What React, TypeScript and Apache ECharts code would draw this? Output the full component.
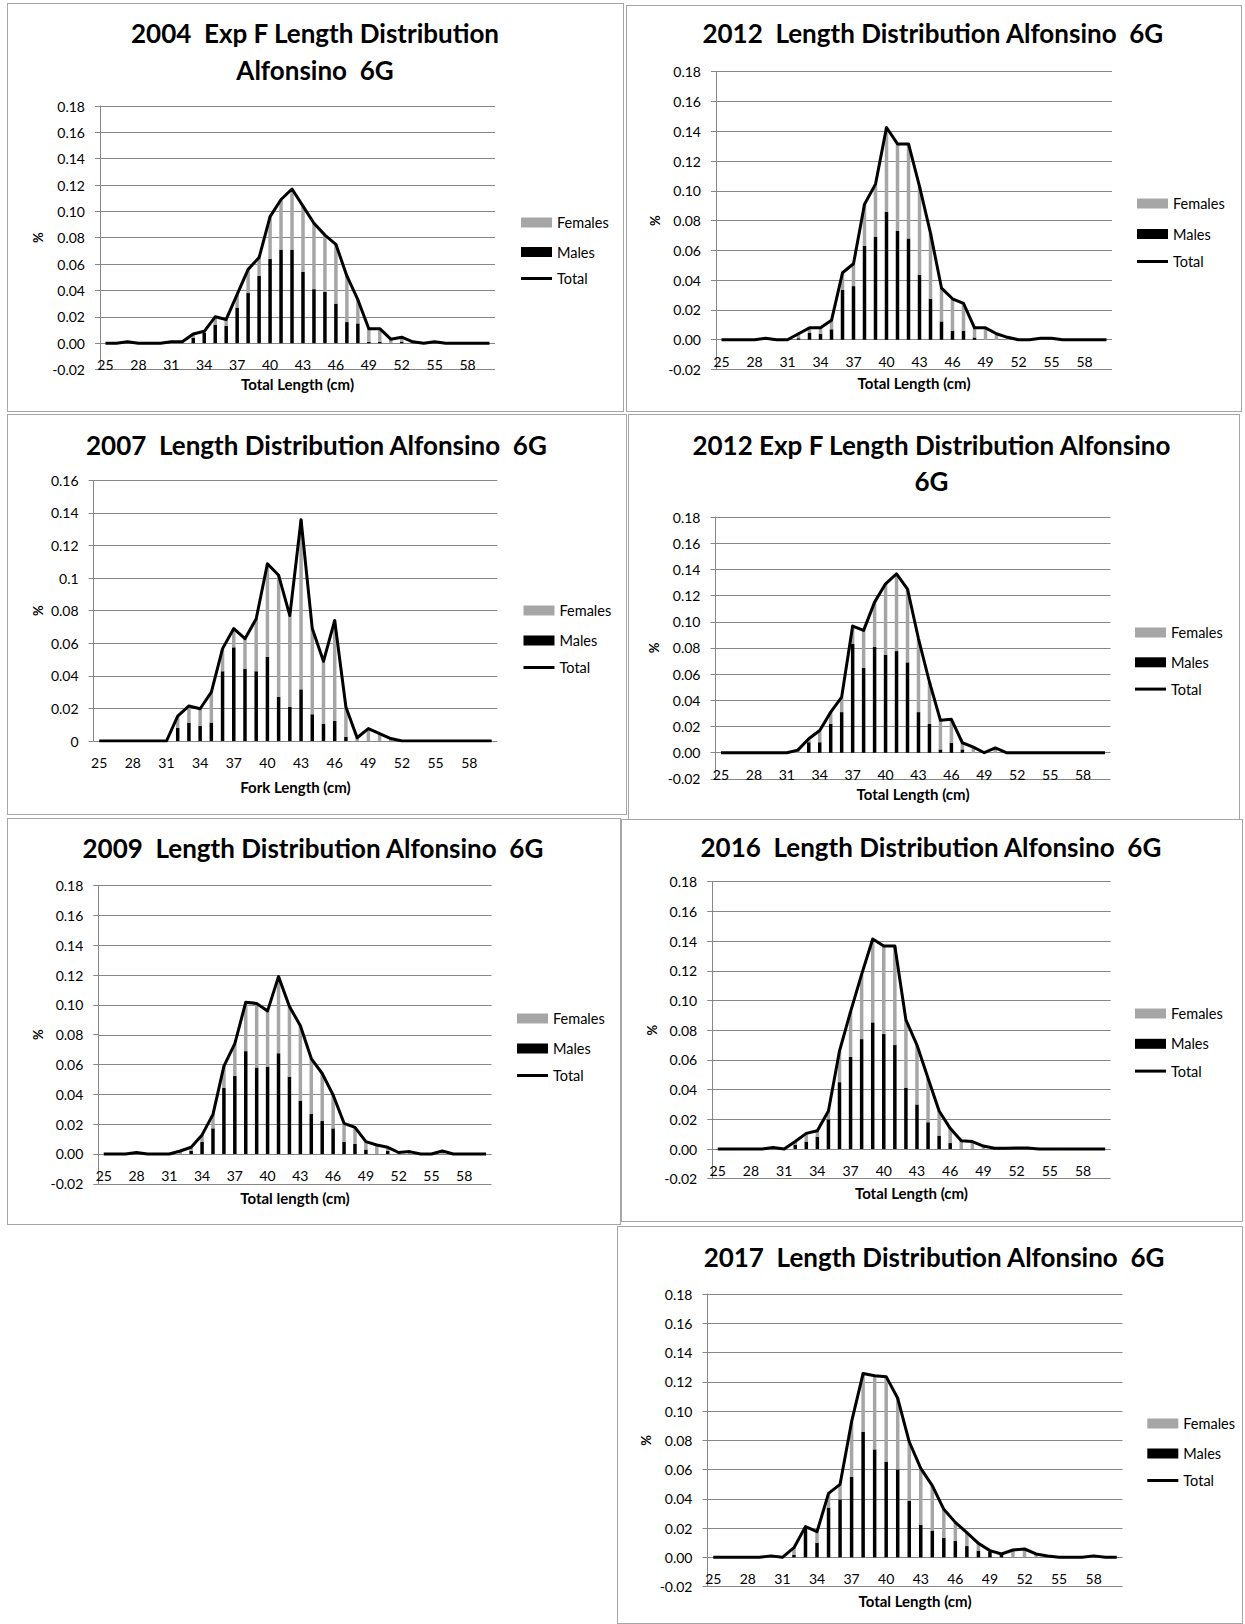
import React, { useEffect, useRef } from "react";
import * as echarts from "echarts";

const lengths = ["25","26","27","28","29","30","31","32","33","34","35","36","37","38","39","40","41","42","43","44","45","46","47","48","49","50","51","52","53","54","55","56","57","58","59","60"];

// 2004 Exp F
const total2004 = [0,0,0.001,0,0, 0,0.001,0.001,0.007,0.009, 0.020,0.018,0.037,0.056,0.065, 0.096,0.109,0.117,0.104,0.091, 0.082,0.075,0.051,0.033,0.011, 0.011,0.003,0.0045,0.001,0, 0.001,0,0,0,0, 0];
const males2004 = [0,0,0,0,0, 0,0,0,0.004,0.008, 0.014,0.013,0.027,0.038,0.051, 0.064,0.071,0.071,0.054,0.041, 0.039,0.030,0.016,0.015,0.001, 0.001,0,0.001,0,0, 0,0,0,0,0, 0];
const females2004 = [0,0,0.001,0,0, 0,0.001,0.001,0.003,0.001, 0.006,0.005,0.010,0.018,0.014, 0.032,0.038,0.046,0.050,0.050, 0.043,0.045,0.035,0.018,0.010, 0.010,0.003,0.0035,0.001,0, 0.001,0,0,0,0, 0];

// 2012
const total2012 = [0,0,0,0,0.001, 0,0,0.004,0.008,0.008, 0.013,0.045,0.051,0.091,0.1045, 0.1425,0.1315,0.1315,0.103,0.0716, 0.0347,0.0275,0.0244,0.008,0.008, 0.004,0.0016,0,0,0.001, 0.001,0,0,0,0, 0];
const males2012 = [0,0,0,0,0, 0,0,0.001,0.0045,0.004, 0.007,0.0335,0.036,0.063,0.069, 0.086,0.073,0.068,0.0436,0.0275, 0.0123,0.006,0.006,0.0015,0, 0,0,0,0,0, 0,0,0,0,0, 0];
const females2012 = [0,0,0,0,0.001, 0,0,0.003,0.0035,0.004, 0.006,0.0115,0.015,0.028,0.0355, 0.0565,0.0585,0.0635,0.0594,0.0441, 0.0224,0.0215,0.0184,0.0065,0.008, 0.004,0.0016,0,0,0.001, 0.001,0,0,0,0, 0];

// 2007
const total2007 = [0,0,0,0,0, 0,0,0.0153,0.0215,0.0198, 0.030,0.0567,0.069,0.0628,0.075, 0.1088,0.1017,0.077,0.1358,0.069, 0.0489,0.074,0.0209,0.002,0.0076, 0.0045,0.0015,0,0,0, 0,0,0,0,0, 0];
const males2007 = [0,0,0,0,0, 0,0,0.008,0.0113,0.0092, 0.0113,0.0428,0.0575,0.0444,0.0428, 0.0516,0.027,0.0209,0.0317,0.0164, 0.0106,0.0123,0.0025,0,0, 0,0,0,0,0, 0,0,0,0,0, 0];
const females2007 = [0,0,0,0,0, 0,0,0.0073,0.0102,0.0106, 0.0187,0.0139,0.0115,0.0184,0.0322, 0.0572,0.0747,0.0561,0.1041,0.0526, 0.0383,0.0617,0.0184,0.002,0.0076, 0.0045,0.0015,0,0,0, 0,0,0,0,0, 0];

// 2012 Exp F
const total2012F = [0,0,0,0,0, 0,0,0.002,0.0107,0.017, 0.031,0.0425,0.0967,0.0934,0.115, 0.129,0.1365,0.125,0.087,0.054, 0.0247,0.0255,0.0076,0.0043,0, 0.0036,0,0,0,0, 0,0,0,0,0, 0];
const males2012F = [0,0,0,0,0, 0,0,0,0.008,0.008, 0.022,0.031,0.083,0.0647,0.0807, 0.0749,0.0776,0.069,0.031,0.022, 0.0025,0.0076,0.0025,0,0, 0,0,0,0,0, 0,0,0,0,0, 0];
const females2012F = [0,0,0,0,0, 0,0,0.002,0.0027,0.009, 0.009,0.0115,0.0137,0.0287,0.0343, 0.0541,0.0589,0.056,0.056,0.032, 0.0222,0.0179,0.0051,0.0043,0, 0.0036,0,0,0,0, 0,0,0,0,0, 0];

// 2009
const total2009 = [0,0,0,0.001,0, 0,0,0.002,0.0045,0.0128, 0.0266,0.059,0.074,0.1018,0.101, 0.096,0.119,0.099,0.086,0.064, 0.054,0.0396,0.0206,0.0179,0.0083, 0.006,0.0045,0.001,0.0016,0, 0,0.002,0,0,0, 0];
const males2009 = [0,0,0,0,0, 0,0,0,0.002,0.0083, 0.0172,0.0445,0.0523,0.069,0.058, 0.0586,0.0676,0.0519,0.0358,0.0268, 0.0221,0.0172,0.0083,0.0067,0.003, 0,0.002,0,0,0, 0,0,0,0,0, 0];
const females2009 = [0,0,0,0.001,0, 0,0,0.002,0.0025,0.0045, 0.0094,0.0145,0.0217,0.0328,0.043, 0.0374,0.0514,0.0471,0.0502,0.0372, 0.0319,0.0224,0.0123,0.0112,0.0053, 0.006,0.0025,0.001,0.0016,0, 0,0.002,0,0,0, 0];

// 2016
const total2016 = [0,0,0,0,0, 0.001,0,0.005,0.0105,0.0123, 0.0256,0.066,0.0925,0.1176,0.1414, 0.1367,0.1367,0.0869,0.070,0.0476, 0.0256,0.0139,0.0056,0.005,0.002, 0.0005,0.0005,0.0007,0.0007,0, 0,0,0,0,0, 0];
const males2016 = [0,0,0,0,0, 0,0,0.0027,0.005,0.0083, 0.020,0.045,0.062,0.074,0.0853, 0.0774,0.070,0.0413,0.030,0.018, 0.009,0.004,0,0,0, 0,0,0,0,0, 0,0,0,0,0, 0];
const females2016 = [0,0,0,0,0, 0.001,0,0.0023,0.0055,0.004, 0.0056,0.021,0.0305,0.0436,0.0561, 0.0593,0.0667,0.0456,0.040,0.0296, 0.0166,0.0099,0.0056,0.005,0.002, 0.0005,0.0005,0.0007,0.0007,0, 0,0,0,0,0, 0];

// 2017
const total2017 = [0,0,0,0,0, 0.001,0,0.0066,0.021,0.0175, 0.0437,0.0499,0.0927,0.1257,0.1241, 0.1235,0.1087,0.079,0.0608,0.049, 0.0328,0.0239,0.0169,0.0096,0.0046, 0.0023,0.005,0.0057,0.0023,0.0009, 0,0,0,0.001,0, 0];
const males2017 = [0,0,0,0,0, 0,0,0.0016,0.0205,0.01, 0.034,0.0396,0.055,0.0859,0.0738, 0.0654,0.0601,0.0387,0.0221,0.018, 0.0134,0.0112,0.0077,0.0046,0.0039, 0.0016,0,0,0,0, 0,0,0,0,0, 0];
const females2017 = [0,0,0,0,0, 0.001,0,0.005,0.0005,0.0075, 0.0097,0.0103,0.0377,0.0398,0.0503, 0.0581,0.0486,0.0403,0.0387,0.031, 0.0194,0.0127,0.0092,0.005,0.0007, 0.0007,0.005,0.0057,0.0023,0.0009, 0,0,0,0.001,0, 0];

const FONT = 'Lato, "Noto Sans", sans-serif';
const GRID = "#868686";
const FEMALE = "#a6a6a6";

type Panel = {
  title: string[];
  xName: string;
  total: number[];
  males: number[];
  females: number[];
  yMin: number;
  yMax: number;
  fixed: boolean;
};

const panelData: Panel[] = [
  { title: ["2004  Exp F Length Distribution", "Alfonsino  6G"], xName: "Total Length (cm)", total: total2004, males: males2004, females: females2004, yMin: -0.02, yMax: 0.18, fixed: true },
  { title: ["2012  Length Distribution Alfonsino  6G"], xName: "Total Length (cm)", total: total2012, males: males2012, females: females2012, yMin: -0.02, yMax: 0.18, fixed: true },
  { title: ["2007  Length Distribution Alfonsino  6G"], xName: "Fork Length (cm)", total: total2007, males: males2007, females: females2007, yMin: 0, yMax: 0.16, fixed: false },
  { title: ["2012 Exp F Length Distribution Alfonsino", "6G"], xName: "Total Length (cm)", total: total2012F, males: males2012F, females: females2012F, yMin: -0.02, yMax: 0.18, fixed: true },
  { title: ["2009  Length Distribution Alfonsino  6G"], xName: "Total length (cm)", total: total2009, males: males2009, females: females2009, yMin: -0.02, yMax: 0.18, fixed: true },
  { title: ["2016  Length Distribution Alfonsino  6G"], xName: "Total Length (cm)", total: total2016, males: males2016, females: females2016, yMin: -0.02, yMax: 0.18, fixed: true },
  { title: ["2017  Length Distribution Alfonsino  6G"], xName: "Total Length (cm)", total: total2017, males: males2017, females: females2017, yMin: -0.02, yMax: 0.18, fixed: true },
];

type Layout = {
  box: [number, number, number, number];
  grid: [number, number, number, number];
  titleX: number;
  titleY: number[];
  legend: [number, number, number];
  pctX: number;
  xNameGap: number;
};

const layouts: Layout[] = [
  { box: [7, 3, 617, 409], grid: [93, 103, 395, 263.5], titleX: 308, titleY: [30, 67], legend: [514, 220, 28], pctX: 31.2, xNameGap: 7 },
  { box: [626, 5, 616, 407], grid: [90, 66.7, 396, 297.8], titleX: 306.8, titleY: [28.3], legend: [511, 199, 29], pctX: 29, xNameGap: 6 },
  { box: [7, 414, 620, 401], grid: [86.6, 66.3, 403.7, 260.7], titleX: 309.4, titleY: [31.3], legend: [516.5, 197, 28.5], pctX: 30.7, xNameGap: 38 },
  { box: [628, 414, 612, 406], grid: [87.5, 103, 395, 261.9], titleX: 303.4, titleY: [31.3, 67], legend: [507, 219, 28.3], pctX: 25.5, xNameGap: 8 },
  { box: [7, 818, 614, 407], grid: [91.3, 67.7, 393.2, 298.1], titleX: 305.9, titleY: [30.3], legend: [510, 201, 28.5], pctX: 30.6, xNameGap: 7 },
  { box: [621, 819, 622, 403], grid: [91.2, 62.7, 398.5, 297], titleX: 309.9, titleY: [27.7], legend: [514, 195, 28.8], pctX: 31.2, xNameGap: 7 },
  { box: [617, 1226, 626, 398], grid: [90.5, 68, 415, 292.6], titleX: 317, titleY: [30.7], legend: [530.3, 198, 28.5], pctX: 29.2, xNameGap: 7 },
];

function buildOption(p: Panel, l: Layout) {
  const fmt = (v: number) => (p.fixed ? v.toFixed(2) : String(Number(v.toFixed(2))));
  const steps = Math.round((p.yMax - p.yMin) / 0.02);
  const stepPx = l.grid[3] / steps;
  // category labels sit just under the zero line, as in the original
  const zeroOffset = p.yMin < 0 ? stepPx : 0;
  const labelMargin = 14.5 - zeroOffset;
  const legendText = { fontSize: 14.5, color: "#000", fontFamily: FONT };
  const titleTexts = p.title.map((t, i) => ({
    type: "text",
    x: l.titleX,
    y: l.titleY[i],
    style: {
      text: t,
      fontSize: 26,
      fontWeight: "bold",
      fontFamily: FONT,
      fill: "#000",
      align: "center",
      verticalAlign: "middle",
    },
  }));
  const pctText = {
    type: "text",
    x: l.pctX,
    y: l.grid[1] + l.grid[3] / 2,
    rotation: Math.PI / 2,
    style: {
      text: "%",
      fontSize: 13,
      fontWeight: "bold",
      fontFamily: FONT,
      fill: "#000",
      align: "center",
      verticalAlign: "middle",
    },
  };
  return {
    animation: false,
    textStyle: { fontFamily: FONT },
    grid: { left: l.grid[0], top: l.grid[1], width: l.grid[2], height: l.grid[3], containLabel: false },
    graphic: [...titleTexts, pctText],
    legend: [
      {
        orient: "vertical",
        left: l.legend[0],
        top: l.legend[1] - 8,
        padding: 0,
        itemWidth: 31,
        itemHeight: 10,
        itemGap: l.legend[2] - 13.5,
        selectedMode: false,
        icon: "rect",
        data: ["Females", "Males"],
        textStyle: legendText,
      },
      {
        orient: "vertical",
        left: l.legend[0],
        top: l.legend[1] + 2 * l.legend[2] - 8,
        padding: 0,
        itemWidth: 31,
        itemHeight: 3,
        selectedMode: false,
        icon: "rect",
        data: ["Total"],
        textStyle: legendText,
      },
    ],
    xAxis: {
      type: "category",
      data: lengths,
      boundaryGap: true,
      axisLine: { show: false, onZero: false },
      axisTick: { show: false },
      axisLabel: { interval: 2, margin: labelMargin, fontSize: 14, color: "#000", fontFamily: FONT },
      name: p.xName,
      nameLocation: "middle",
      nameGap: l.xNameGap,
      nameTextStyle: { fontSize: 15, fontWeight: "bold", color: "#000", fontFamily: FONT },
    },
    yAxis: {
      type: "value",
      min: p.yMin,
      max: p.yMax,
      interval: 0.02,
      axisLine: { show: true, lineStyle: { color: GRID } },
      axisTick: { show: true, length: 5, lineStyle: { color: GRID } },
      splitLine: { show: true, lineStyle: { color: GRID, width: 1 } },
      axisLabel: { margin: 15, fontSize: 14, color: "#000", fontFamily: FONT, formatter: fmt },
    },
    series: [
      { name: "Males", type: "bar", stack: "sex", data: p.males, barWidth: 3.5, itemStyle: { color: "#000" } },
      { name: "Females", type: "bar", stack: "sex", data: p.females, barWidth: 3.5, itemStyle: { color: FEMALE } },
      {
        name: "Total",
        type: "line",
        data: p.total,
        symbol: "none",
        showSymbol: false,
        z: 5,
        lineStyle: { color: "#000", width: 3, join: "round" },
        itemStyle: { color: "#000" },
      },
    ],
  };
}

function ChartPanel({ p, l }: { p: Panel; l: Layout }) {
  const ref = useRef<HTMLDivElement>(null);
  useEffect(() => {
    if (!ref.current) return;
    const chart = echarts.init(ref.current, undefined, { renderer: "svg" });
    chart.setOption(buildOption(p, l) as any);
    return () => chart.dispose();
  }, [p, l]);
  const [x, y, w, h] = l.box;
  return (
    <>
      <div ref={ref} style={{ position: "absolute", left: x, top: y, width: w, height: h }} />
      <div
        style={{
          position: "absolute",
          left: x,
          top: y,
          width: w,
          height: h,
          border: "1px solid #a6a6a6",
          boxSizing: "border-box",
          pointerEvents: "none",
        }}
      />
    </>
  );
}

export default function App() {
  return (
    <div style={{ position: "absolute", left: 0, top: 0, width: 1245, height: 1624, background: "#fff", overflow: "hidden" }}>
      {panelData.map((p, i) => (
        <ChartPanel key={i} p={p} l={layouts[i]} />
      ))}
    </div>
  );
}
